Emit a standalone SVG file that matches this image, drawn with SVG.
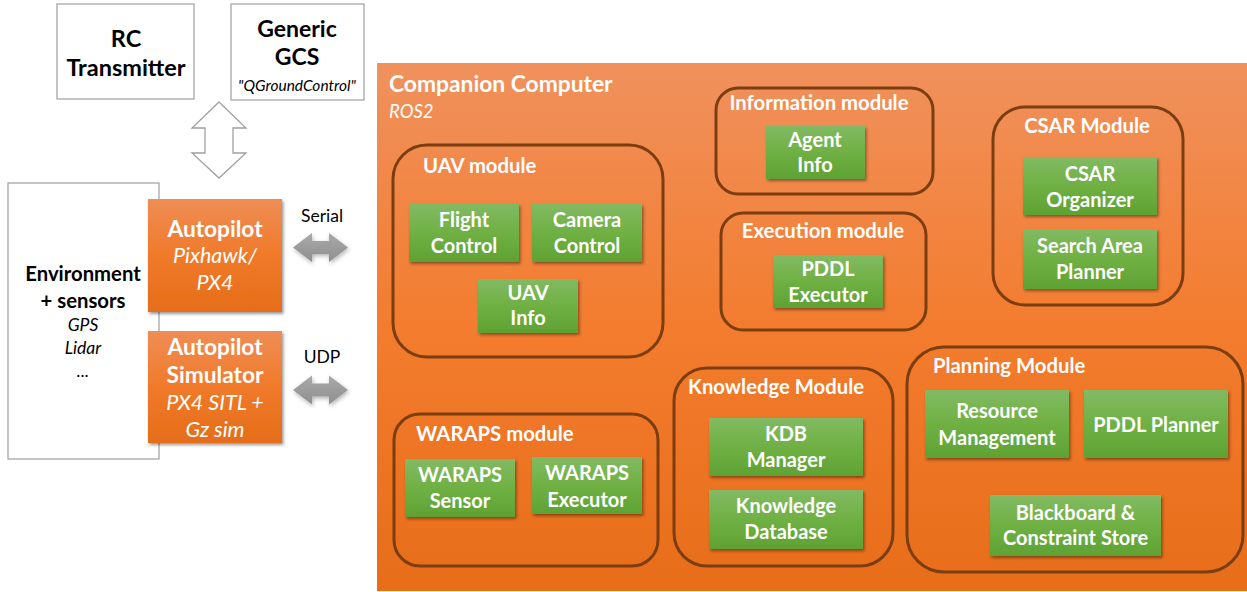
<svg xmlns="http://www.w3.org/2000/svg" width="1247" height="592" viewBox="0 0 1247 592">
  <defs>
    <linearGradient id="gOrange" x1="0" y1="0" x2="0" y2="1">
      <stop offset="0" stop-color="#F0915D"/>
      <stop offset="0.5" stop-color="#F37C2E"/>
      <stop offset="1" stop-color="#E76D19"/>
    </linearGradient>
    <linearGradient id="gPilot" x1="0" y1="0" x2="0" y2="1">
      <stop offset="0" stop-color="#EF8D55"/>
      <stop offset="0.5" stop-color="#F07A2A"/>
      <stop offset="1" stop-color="#E56D19"/>
    </linearGradient>
    <linearGradient id="gGreen" x1="0" y1="0" x2="0" y2="1">
      <stop offset="0" stop-color="#82BA63"/>
      <stop offset="0.5" stop-color="#6FB043"/>
      <stop offset="1" stop-color="#5FA233"/>
    </linearGradient>
    <linearGradient id="gGrey" x1="0" y1="0" x2="0" y2="1">
      <stop offset="0" stop-color="#AAAAAA"/>
      <stop offset="1" stop-color="#8E8E8E"/>
    </linearGradient>
    <filter id="shadow" x="-10%" y="-10%" width="130%" height="140%">
      <feDropShadow dx="1.5" dy="2" stdDeviation="1.5" flood-color="#000" flood-opacity="0.4"/>
    </filter>
    <filter id="softShadow" x="-20%" y="-30%" width="140%" height="170%">
      <feDropShadow dx="1" dy="2" stdDeviation="2" flood-color="#000" flood-opacity="0.3"/>
    </filter>
  </defs>
  <style>
    text { font-family: Lato, "Liberation Sans", sans-serif; text-anchor: middle; }
    .plain { fill: #ffffff; stroke: #A6A6A6; stroke-width: 1.3; }
    .blk { fill: #000; font-weight: bold; font-size: 23.5px; }
    .blkI { fill: #000; font-style: italic; font-size: 17.5px; }
    .pilot { fill: url(#gPilot); filter: url(#shadow); }
    .wB { fill: #fff; font-weight: bold; font-size: 22.7px; }
    .wI { fill: #fff; font-style: italic; font-size: 21.5px; }
    .module { fill: none; stroke: #7C3D10; stroke-width: 3; }
    .mtitle { fill: #fff; font-weight: bold; font-size: 20.3px; }
    .green { fill: url(#gGreen); filter: url(#shadow); }
    .gtxt { fill: #fff; font-weight: bold; font-size: 20px; }
    .lbl { fill: #000; font-size: 17.5px; }
  </style>

  <!-- external equipment -->
  <g id="rc-transmitter">
    <rect class="plain" x="57" y="4" width="137" height="95"/>
    <text class="blk" x="126" y="47">RC</text>
    <text class="blk" x="126" y="76">Transmitter</text>
  </g>
  <g id="generic-gcs">
    <rect class="plain" x="231" y="4" width="133" height="96"/>
    <text class="blk" x="297" y="37" style="font-size:23px">Generic</text>
    <text class="blk" x="297" y="65" style="font-size:23px">GCS</text>
    <text class="blkI" x="297" y="91" style="font-size:15.5px">"QGroundControl"</text>
  </g>
  <g id="environment">
    <rect class="plain" x="8" y="183" width="151" height="276"/>
    <text class="blk" x="83" y="281" style="font-size:20.3px">Environment</text>
    <text class="blk" x="83" y="308" style="font-size:20.3px">+ sensors</text>
    <text class="blkI" x="83" y="331">GPS</text>
    <text class="blkI" x="83" y="354">Lidar</text>
    <text class="blkI" x="83" y="377">...</text>
  </g>
  <g id="autopilot">
    <rect class="pilot" x="148" y="199" width="134" height="113"/>
    <text class="wB" x="215" y="237">Autopilot</text>
    <text class="wI" x="215" y="263">Pixhawk/</text>
    <text class="wI" x="215" y="290">PX4</text>
  </g>
  <g id="autopilot-sim">
    <rect class="pilot" x="148" y="331" width="134" height="112"/>
    <text class="wB" x="215" y="355">Autopilot</text>
    <text class="wB" x="215" y="383">Simulator</text>
    <text class="wI" x="215" y="410">PX4 SITL +</text>
    <text class="wI" x="215" y="437">Gz sim</text>
  </g>

  <!-- connectors -->
  <g id="connectors">
    <path d="M219,102 L246,128 L233,128 L233,153 L246,153 L219,178 L192,153 L205,153 L205,128 L192,128 Z" fill="#fff" stroke="#A0A0A0" stroke-width="1.3"/>
    <path d="M293,247.5 L312,233 L312,241 L329,241 L329,233 L348,247.5 L329,262 L329,254 L312,254 L312,262 Z" fill="url(#gGrey)" filter="url(#softShadow)"/>
    <text class="lbl" x="322" y="222">Serial</text>
    <path d="M293,390 L312,375.5 L312,383.5 L329,383.5 L329,375.5 L348,390 L329,404.5 L329,396.5 L312,396.5 L312,404.5 Z" fill="url(#gGrey)" filter="url(#softShadow)"/>
    <text class="lbl" x="322" y="363">UDP</text>
  </g>

  <!-- companion computer -->
  <g id="companion">
    <rect x="377" y="63" width="870" height="528" fill="url(#gOrange)"/>
    <text x="389" y="92" style="text-anchor:start; fill:#fff; font-weight:bold; font-size:22.8px">Companion Computer</text>
    <text x="389" y="118" style="text-anchor:start; fill:#fff; font-style:italic; font-size:18.5px">ROS2</text>
  </g>

  <g id="uav-module">
    <rect class="module" x="393" y="145" width="270" height="212" rx="34"/>
    <text class="mtitle" x="423" y="173" style="text-anchor:start">UAV module</text>
  </g>
  <g id="flight-control">
    <rect class="green" x="409" y="204" width="110" height="58"/>
    <text class="gtxt" x="464" y="227">Flight</text>
    <text class="gtxt" x="464" y="253">Control</text>
  </g>
  <g id="camera-control">
    <rect class="green" x="532" y="204" width="110" height="58"/>
    <text class="gtxt" x="587" y="227">Camera</text>
    <text class="gtxt" x="587" y="253">Control</text>
  </g>
  <g id="uav-info">
    <rect class="green" x="478" y="279" width="100" height="54"/>
    <text class="gtxt" x="528" y="300">UAV</text>
    <text class="gtxt" x="528" y="325">Info</text>
  </g>

  <g id="information-module">
    <rect class="module" x="716" y="88" width="217" height="106" rx="22"/>
    <text class="mtitle" x="819" y="110">Information module</text>
  </g>
  <g id="agent-info">
    <rect class="green" x="766" y="126" width="99" height="53"/>
    <text class="gtxt" x="815" y="147">Agent</text>
    <text class="gtxt" x="815" y="172">Info</text>
  </g>

  <g id="execution-module">
    <rect class="module" x="721" y="213" width="205" height="117" rx="22"/>
    <text class="mtitle" x="823" y="238">Execution module</text>
  </g>
  <g id="pddl-executor">
    <rect class="green" x="773" y="255" width="110" height="53"/>
    <text class="gtxt" x="828" y="276">PDDL</text>
    <text class="gtxt" x="828" y="302">Executor</text>
  </g>

  <g id="csar-module">
    <rect class="module" x="993" y="107" width="190" height="198" rx="32"/>
    <text class="mtitle" x="1087" y="133">CSAR Module</text>
  </g>
  <g id="csar-organizer">
    <rect class="green" x="1023" y="157" width="134" height="58"/>
    <text class="gtxt" x="1090" y="181">CSAR</text>
    <text class="gtxt" x="1090" y="207">Organizer</text>
  </g>
  <g id="search-area-planner">
    <rect class="green" x="1023" y="229" width="134" height="60"/>
    <text class="gtxt" x="1090" y="253">Search Area</text>
    <text class="gtxt" x="1090" y="279">Planner</text>
  </g>

  <g id="waraps-module">
    <rect class="module" x="394" y="414" width="264" height="152" rx="26"/>
    <text class="mtitle" x="416" y="441" style="text-anchor:start">WARAPS module</text>
  </g>
  <g id="waraps-sensor">
    <rect class="green" x="405" y="459" width="110" height="58"/>
    <text class="gtxt" x="460" y="482">WARAPS</text>
    <text class="gtxt" x="460" y="508">Sensor</text>
  </g>
  <g id="waraps-executor">
    <rect class="green" x="532" y="457" width="110" height="57"/>
    <text class="gtxt" x="587" y="480">WARAPS</text>
    <text class="gtxt" x="587" y="507">Executor</text>
  </g>

  <g id="knowledge-module">
    <rect class="module" x="674" y="368" width="219" height="198" rx="33"/>
    <text class="mtitle" x="688" y="394" style="text-anchor:start">Knowledge Module</text>
  </g>
  <g id="kdb-manager">
    <rect class="green" x="709" y="418" width="154" height="58"/>
    <text class="gtxt" x="786" y="441">KDB</text>
    <text class="gtxt" x="786" y="467">Manager</text>
  </g>
  <g id="knowledge-database">
    <rect class="green" x="709" y="490" width="154" height="59"/>
    <text class="gtxt" x="786" y="513">Knowledge</text>
    <text class="gtxt" x="786" y="539">Database</text>
  </g>

  <g id="planning-module">
    <rect class="module" x="907" y="347" width="336" height="225" rx="37"/>
    <text class="mtitle" x="933" y="373" style="text-anchor:start">Planning Module</text>
  </g>
  <g id="resource-management">
    <rect class="green" x="925" y="390" width="144" height="68"/>
    <text class="gtxt" x="997" y="418">Resource</text>
    <text class="gtxt" x="997" y="445">Management</text>
  </g>
  <g id="pddl-planner">
    <rect class="green" x="1084" y="390" width="144" height="68"/>
    <text class="gtxt" x="1156" y="432">PDDL Planner</text>
  </g>
  <g id="blackboard">
    <rect class="green" x="990" y="495" width="171" height="61"/>
    <text class="gtxt" x="1075.5" y="520">Blackboard &amp;</text>
    <text class="gtxt" x="1075.5" y="545">Constraint Store</text>
  </g>
</svg>
